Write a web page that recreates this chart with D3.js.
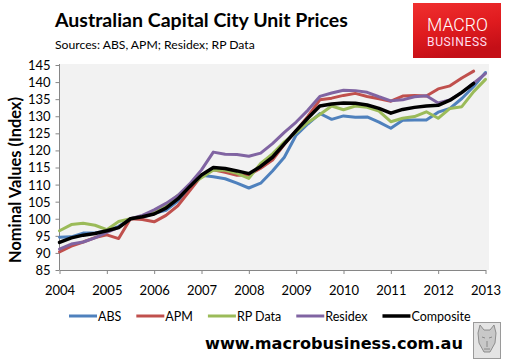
<!DOCTYPE html>
<html><head><meta charset="utf-8">
<script src="https://cdn.jsdelivr.net/npm/d3@7"></script>
<style>html,body{margin:0;padding:0;background:#fff;}svg{display:block;}</style>
</head><body>
<svg id="c" width="507" height="362"></svg>
<script>
const quarters = ["2004Q1","2004Q2","2004Q3","2004Q4","2005Q1","2005Q2","2005Q3","2005Q4",
"2006Q1","2006Q2","2006Q3","2006Q4","2007Q1","2007Q2","2007Q3","2007Q4",
"2008Q1","2008Q2","2008Q3","2008Q4","2009Q1","2009Q2","2009Q3","2009Q4",
"2010Q1","2010Q2","2010Q3","2010Q4","2011Q1","2011Q2","2011Q3","2011Q4",
"2012Q1","2012Q2","2012Q3","2012Q4","2013Q1"];
const xTicks = [2004,2005,2006,2007,2008,2009,2010,2011,2012,2013];
const yTicks = [85,90,95,100,105,110,115,120,125,130,135,140,145];
const abs = [94.6,94.7,95.8,95.8,96.4,97.8,100.0,
 100.4,101.6,102.5,105.2,109.0,112.7,112.3,111.7,110.4,109.0,110.4,
 114.0,118.0,124.5,127.8,130.8,129.1,130.1,129.7,129.8,128.3,126.5,128.8,
 128.9,128.9,131.2,132.3,135.2,138.7,142.8];
const apm = [90.3,92.0,93.2,94.5,95.3,94.2,100.0,
 99.8,99.1,101.0,103.8,108.2,112.6,114.3,113.6,112.7,112.8,114.8,
 117.2,121.8,125.8,130.0,134.8,135.3,136.1,136.7,135.8,135.1,134.4,135.9,
 136.1,135.9,138.0,138.9,141.2,143.2];
const rpData = [96.5,98.3,98.7,98.1,96.8,99.2,100.0,
 100.8,102.0,104.0,106.8,109.8,112.0,114.3,114.2,113.3,111.8,116.2,
 119.0,122.5,125.3,128.2,130.5,133.0,131.9,133.0,132.6,131.5,128.4,129.4,
 129.9,131.3,129.4,132.3,132.8,137.2,140.8];
const residex = [91.1,92.6,93.2,94.4,96.0,97.5,100.0,
 101.0,102.6,104.5,106.8,110.2,114.3,119.5,118.9,118.8,118.3,119.2,
 122.0,125.3,128.3,131.8,135.8,136.8,137.6,137.5,137.0,135.7,134.5,134.8,
 135.7,136.0,133.9,134.8,136.9,139.7,142.5];
const composite = [93.1,94.4,95.2,95.7,96.5,97.4,100.0,
 100.6,101.4,103.1,105.8,109.4,112.8,115.0,114.7,114.0,113.2,115.3,
 118.0,121.9,125.8,129.5,133.0,133.6,133.9,133.8,133.3,132.3,130.9,132.0,
 132.6,133.0,133.2,134.7,137.0,139.6];
const seriesNames = ["ABS","APM","RP Data","Residex","Composite"];
const seriesData = [abs, apm, rpData, residex, composite];
const colors = ["#4f81bd","#c0504d","#9bbb59","#8064a2","#000000"];
const widths = [3, 3, 3, 3, 3.5];

const svg = d3.select("#c");
const font = "Lato, 'Open Sans', sans-serif";
function fit(sel, w){ const cur = sel.node().getComputedTextLength(); const fs = parseFloat(sel.attr("font-size")); sel.attr("font-size", fs*w/cur); return sel; }
const qx = q => +q.slice(0,4) + (+q.slice(5)-1)/4;

const x = d3.scaleLinear().domain([2004,2013]).range([59.5,485.5]);
const y = d3.scaleLinear().domain([85,145]).range([270,65]);

svg.append("rect").attr("x",60).attr("y",64).attr("width",429).attr("height",206).attr("fill","#f2f2f2");

fit(svg.append("text").attr("x",55).attr("y",27).attr("font-family",font).attr("font-weight","bold")
  .attr("font-size",19).attr("fill","#000").text("Australian Capital City Unit Prices"), 293);
fit(svg.append("text").attr("x",55).attr("y",49).attr("font-family",font)
  .attr("font-size",12).attr("fill","#000").text("Sources: ABS, APM; Residex; RP Data"), 200);

const defs = svg.append("defs");
const lg = defs.append("linearGradient").attr("id","lg").attr("x1",0).attr("y1",0).attr("x2",0.3).attr("y2",1);
lg.append("stop").attr("offset","0%").attr("stop-color","#f0302f");
lg.append("stop").attr("offset","55%").attr("stop-color","#e01b1f");
lg.append("stop").attr("offset","100%").attr("stop-color","#c40f17");
svg.append("rect").attr("x",413).attr("y",3).attr("width",88).attr("height",55).attr("fill","url(#lg)");
fit(svg.append("text").attr("x",427).attr("y",31).attr("font-family","Roboto, sans-serif").attr("font-weight",300)
  .attr("font-size",14).attr("fill","#fff").text("MACRO"), 61);
fit(svg.append("text").attr("x",427).attr("y",46).attr("font-family","Roboto, sans-serif").attr("font-weight",400)
  .attr("font-size",11).attr("fill","#fde").attr("letter-spacing",0.6).text("BUSINESS"), 61);

const ax = svg.append("g").attr("transform","translate(0,270)")
  .call(d3.axisBottom(x).tickValues(xTicks).tickFormat(d3.format("d")).tickSize(4).tickSizeOuter(0));
const ay = svg.append("g").attr("transform","translate(59.5,0)")
  .call(d3.axisLeft(y).tickValues(yTicks).tickSize(4).tickSizeOuter(0));
[ax,ay].forEach(g=>{
  g.select(".domain").attr("stroke","#868686");
  g.selectAll(".tick line").attr("stroke","#868686");
  g.selectAll("text").attr("font-family",font).attr("font-size",13).attr("fill","#000");
});
ax.selectAll("text").attr("dy","1.4em");
ay.selectAll("text").attr("x",-9).attr("dy","0.34em");
ay.select(".domain").attr("d","M0,64V270");

fit(svg.append("text").attr("transform","translate(20.5,180) rotate(-90)").attr("text-anchor","middle")
  .attr("font-family",font).attr("font-weight","bold").attr("font-size",14).text("Nominal Values (Index)"), 166);

const line = d3.line().x(d=>x(d[0])).y(d=>y(d[1]));
seriesData.forEach((arr,k)=>{
  const pts = arr.map((v,i)=>[qx(quarters[i]), v]);
  svg.append("path").attr("d",line(pts)).attr("fill","none").attr("stroke",colors[k])
    .attr("stroke-width",widths[k]).attr("stroke-linejoin","round").attr("stroke-linecap","round");
});

let lx = 69;
seriesNames.forEach((n,k)=>{
  svg.append("line").attr("x1",lx).attr("x2",lx+28).attr("y1",316).attr("y2",316)
    .attr("stroke",colors[k]).attr("stroke-width",widths[k]);
  const t = svg.append("text").attr("x",lx+29).attr("y",320.5).attr("font-family",font)
    .attr("font-size",12.5).attr("fill","#000").text(n);
  lx += 29 + t.node().getComputedTextLength() + 15;
});

fit(svg.append("text").attr("x",205).attr("y",349).attr("font-family","Verdana, 'DejaVu Sans', sans-serif").attr("font-weight","bold")
  .attr("font-size",16).attr("fill","#000").text("www.macrobusiness.com.au"), 258);

svg.append("rect").attr("x",473.5).attr("y",322.5).attr("width",27).attr("height",36).attr("fill","#e4e4e4").attr("stroke","#9a9a9a");
const wolf = svg.append("g").attr("fill","none").attr("stroke","#7a7a7a").attr("stroke-width",0.8);
wolf.append("path").attr("d","M478,333 L480,325 L484,330 L490,330 L494,325 L496,333 L495,343 L490,352 L484,352 L479,343 Z").attr("fill","#c8c8c8");
wolf.append("path").attr("d","M482,337 L485,338 M489,338 L492,337 M487,341 L487,347 M484,349 L490,349");
</script>
</body></html>
